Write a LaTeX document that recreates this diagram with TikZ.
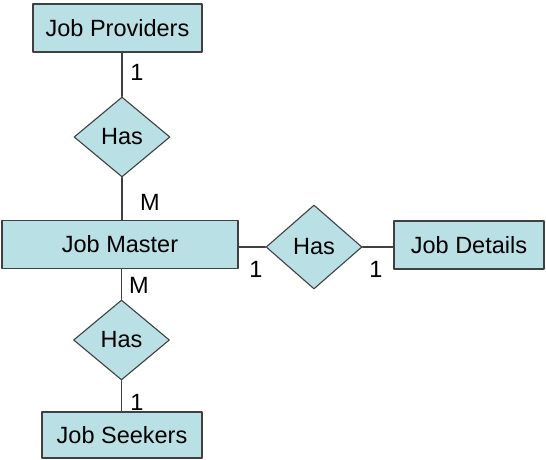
\documentclass[tikz,border=0pt]{standalone}
\usepackage{fontspec}
\setmainfont{Liberation Sans}
\usetikzlibrary{shapes.geometric}
\definecolor{erfill}{RGB}{185,224,228}
\definecolor{erline}{RGB}{64,64,64}
\begin{document}
\begin{tikzpicture}[x=1pt,y=-1pt,font=\fontsize{23.5}{28}\selectfont,line cap=round,line join=round,
	entity/.style={draw=erline,fill=erfill,line width=1.1pt,minimum height=48pt,inner sep=0pt},
	relation/.style={diamond,draw=erline,fill=erfill,line width=1.1pt,aspect=1.2,minimum width=96pt,minimum height=80pt,inner sep=0pt},
	link/.style={draw=erline,line width=1.1pt},
	card/.style={inner sep=0pt}]
	\useasboundingbox (0,0) rectangle (546,460);
	% entities and relations
	\node[entity,minimum width=169pt] (providers) at (117.5,28) {Job Providers};
	\node[relation] (hasTop) at (122,137) {Has};
	\node[entity,minimum width=236pt] (master) at (120,244.5) {Job Master};
	\node[relation,minimum height=84pt] (hasRight) at (314,247) {Has};
	\node[entity,minimum width=150pt] (details) at (469,245) {Job Details};
	\node[relation] (hasBottom) at (121.5,340) {Has};
	\node[entity,minimum width=160pt,minimum height=46pt] (seekers) at (122,435) {Job Seekers};
	% connectors
	\draw[link] (hasTop.north) -- (hasTop.north |- providers.south);
	\draw[link] (hasTop.south) -- (hasTop.south |- master.north);
	\draw[link] (hasRight.west -| master.east) -- (hasRight.west);
	\draw[link] (hasRight.east) -- (hasRight.east -| details.west);
	\draw[link] (hasBottom.north) -- (hasBottom.north |- master.south);
	\draw[link] (hasBottom.south) -- (hasBottom.south |- seekers.north);
	% cardinalities
	\node[card] (cProviders) at (137,72) {1};
	\node[card] (cMasterTop) at (150,202) {M};
	\node[card] (cMasterRight) at (256,269) {1};
	\node[card] (cDetails) at (376,269) {1};
	\node[card] (cMasterBottom) at (139,285) {M};
	\node[card] (cSeekers) at (137,402) {1};
\end{tikzpicture}
\end{document}
